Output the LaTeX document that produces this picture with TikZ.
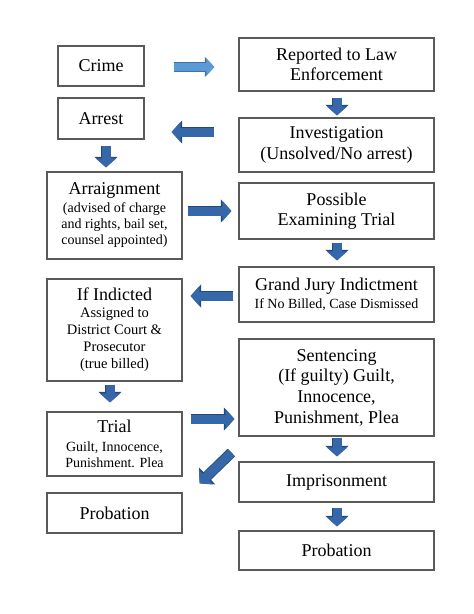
\documentclass[tikz,border=0pt]{standalone}
\usepackage{fontspec}
\setmainfont{Liberation Serif}
\usetikzlibrary{arrows.meta,calc}
\definecolor{boxline}{HTML}{5A5A5A}
\definecolor{arrlight}{HTML}{5B9BD5}
\definecolor{arrlightb}{HTML}{41719C}
\definecolor{arrdark}{HTML}{3567A9}
\definecolor{arrdarkb}{HTML}{25487A}
\newcommand\fbig{\fontsize{18pt}{20.5pt}\selectfont}
\newcommand\fsent{\fontsize{18pt}{20.7pt}\selectfont}
\newcommand\fsmall{\fontsize{14pt}{16pt}\selectfont}
\newcommand\fsmallb{\fontsize{14.5pt}{17pt}\selectfont}
\begin{document}
\begin{tikzpicture}[x=1pt,y=-1pt,
  box/.style={draw=boxline, line width=1.2pt, align=center, inner sep=0pt, font=\fbig},
  barrow/.style={line width=9pt, draw=arrdark, -{Triangle[length=9pt,width=20pt]},
    preaction={draw=arrdarkb, line width=10.6pt, -{Triangle[length=10.6pt,width=22.5pt]}}},
  larrow/.style={line width=8pt, draw=arrlight, -{Triangle[length=8pt,width=17pt]},
    preaction={draw=arrlightb, line width=9.4pt, -{Triangle[length=9.6pt,width=19.5pt]}}}
]
\useasboundingbox (0,0) rectangle (474,614);
\fill[white] (0,0) rectangle (474,614);

\node[box, minimum width=86pt, minimum height=40pt] (crime) at (101,66) {Crime};
\node[box, minimum width=195pt, minimum height=53pt] (rep) at (336.5,64.5) {Reported to Law\\Enforcement};
\node[box, minimum width=86pt, minimum height=41pt] (arrest) at (101,118.5) {Arrest};
\node[box, minimum width=195pt, minimum height=54pt] (inv) at (336.5,145) {Investigation\\(Unsolved/No arrest)};
\node[box, minimum width=135pt, minimum height=87pt, font=\fsmall] (arr) at (114.5,215.5)
  {{\fbig Arraignment}\\[2pt](advised of charge\\and rights, bail set,\\counsel appointed)};
\node[box, minimum width=195pt, minimum height=56pt] (poss) at (336.5,211) {Possible\\Examining Trial};
\node[box, minimum width=195pt, minimum height=55pt, font=\fsmall] (gj) at (336.5,294.5)
  {{\fbig Grand Jury Indictment}\\[2pt]If No Billed, Case Dismissed};
\node[box, minimum width=135pt, minimum height=102pt, font=\fsmallb] (ind) at (114.5,330)
  {{\fbig If Indicted}\\Assigned to\\District Court \&\\Prosecutor\\(true billed)};
\node[box, minimum width=135pt, minimum height=64pt, font=\fsmall] (trial) at (114.5,444)
  {{\fbig Trial}\\[2.5pt]Guilt, Innocence,\\Punishment. Plea};
\node[box, minimum width=195pt, minimum height=97pt, font=\fsent] (sent) at (336.5,387.5)
  {Sentencing\\(If guilty) Guilt,\\Innocence,\\Punishment, Plea};
\node[box, minimum width=195pt, minimum height=40pt] (imp) at (336.5,482) {Imprisonment};
\node[box, minimum width=135pt, minimum height=40pt] (probL) at (114.5,513) {Probation};
\node[box, minimum width=195pt, minimum height=39pt] (probR) at (336.5,550.5) {Probation};

\draw[larrow] ($(crime.east)+(29,1)$) -- ($(rep.west |- crime.east)+(-24,1)$);
\draw[barrow] ($(rep.south)+(0.5,6)$) -- ($(inv.north)+(0.5,-2)$);
\draw[barrow] ($(inv.west)+(-24,-13)$) -- ($(arrest.east |- inv.west)+(27,-13)$);
\draw[barrow] ($(arrest.south)+(5,6)$) -- ($(arrest.south |- arr.north)+(5,-4)$);
\draw[barrow] ($(arr.east |- poss.west)+(5,0)$) -- ($(poss.west)+(-7,0)$);
\draw[barrow] ($(poss.south)+(0.5,3)$) -- ($(gj.north)+(0.5,-6)$);
\draw[barrow] ($(gj.west)+(-5,1.5)$) -- ($(ind.east |- gj.west)+(8,1.5)$);
\draw[barrow] ($(ind.south)+(-4.5,3)$) -- ($(ind.south |- trial.north)+(-4.5,-9)$);
\draw[barrow] ($(trial.east)+(8,-25)$) -- ($(sent.west |- trial.east)+(-4,-25)$);
\draw[barrow] ($(sent.south)+(0.5,1)$) -- ($(imp.north)+(0.5,-5)$);
\draw[barrow] ($(sent.south west)+(-7,16)$) -- ($(probL.north east)+(17,-9)$);
\draw[barrow] ($(imp.south)+(0.5,5)$) -- ($(probR.north)+(0.5,-4)$);
\end{tikzpicture}
\end{document}
